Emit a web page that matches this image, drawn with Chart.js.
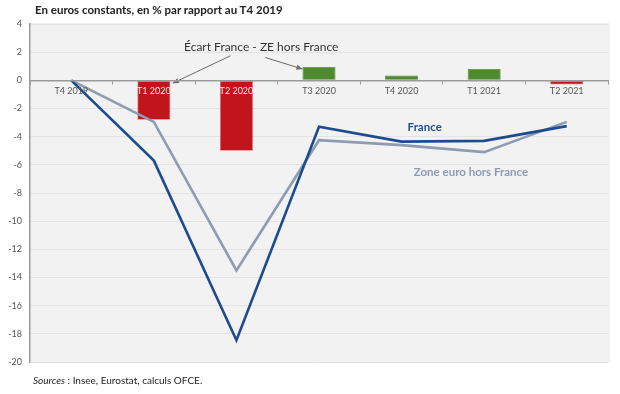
<!DOCTYPE html>
<html>
<head>
<meta charset="utf-8">
<script src="https://cdn.jsdelivr.net/npm/chart.js@4/dist/chart.umd.min.js"></script>
<style>
  html, body { margin: 0; padding: 0; background: #ffffff; }
  #wrap { position: relative; width: 620px; height: 394px; }
  #c { position: absolute; left: 0; top: 0; }
  #title { position: absolute; left: 35px; top: 3px; font: bold 11.5px Lato, "Open Sans", sans-serif; color: #222; white-space: nowrap; }
  #src { position: absolute; left: 33px; top: 374px; font: 10px Lato, "Open Sans", sans-serif; color: #222; white-space: nowrap; }
</style>
</head>
<body>
<div id="wrap">
  <canvas id="c" width="620" height="394"></canvas>
  <div id="title">En euros constants, en % par rapport au T4 2019</div>
  <div id="src"><i>Sources</i> : Insee, Eurostat, calculs OFCE.</div>
</div>
<script>
const categories = ["T4 2019", "T1 2020", "T2 2020", "T3 2020", "T4 2020", "T1 2021", "T2 2021"];
const france = [0, -5.7, -18.45, -3.3, -4.35, -4.3, -3.25];
const zoneEuroHorsFrance = [0, -2.95, -13.5, -4.25, -4.6, -5.1, -2.95];
const ecart = [null, -2.8, -5.0, 0.95, 0.35, 0.8, -0.3];
const yTicks = [4, 2, 0, -2, -4, -6, -8, -10, -12, -14, -16, -18, -20];

const RED = "#c1141b", GREEN = "#4f8a2f";
const FONT = "Lato, 'Open Sans', sans-serif";

const bgPlugin = {
  id: "bg",
  beforeDraw(chart) {
    const a = chart.chartArea, ctx = chart.ctx;
    ctx.save();
    ctx.fillStyle = "#f2f2f2";
    ctx.fillRect(a.left, a.top - 1, a.right - a.left + 2, a.bottom - a.top + 2);
    ctx.restore();
  }
};

function arrow(ctx, x1, y1, x2, y2) {
  ctx.beginPath();
  ctx.moveTo(x1, y1);
  ctx.lineTo(x2, y2);
  ctx.stroke();
  const ang = Math.atan2(y2 - y1, x2 - x1), L = 6, W = 2.6;
  ctx.beginPath();
  ctx.moveTo(x2, y2);
  ctx.lineTo(x2 - L * Math.cos(ang) + W * Math.sin(ang), y2 - L * Math.sin(ang) - W * Math.cos(ang));
  ctx.lineTo(x2 - L * Math.cos(ang) - W * Math.sin(ang), y2 - L * Math.sin(ang) + W * Math.cos(ang));
  ctx.closePath();
  ctx.fill();
}

const annotPlugin = {
  id: "annot",
  afterDatasetsDraw(chart) {
    const ctx = chart.ctx, xs = chart.scales.x, ys = chart.scales.y;
    const px = v => xs.getPixelForValue(v), py = v => ys.getPixelForValue(v);
    ctx.save();
    ctx.strokeStyle = "#6a6a6a"; ctx.fillStyle = "#6a6a6a"; ctx.lineWidth = 1;
    arrow(ctx, px(1.93), py(1.75), px(1.23), py(-0.2));
    arrow(ctx, px(2.35), py(1.62), px(2.8), py(0.8));
    ctx.textAlign = "center"; ctx.textBaseline = "middle";
    ctx.fillStyle = "#333";
    ctx.font = "12px " + FONT;
    ctx.fillText("Écart France - ZE hors France", px(2.3), py(2.35));
    ctx.font = "bold 11.5px " + FONT;
    ctx.fillStyle = "#1f4f93";
    ctx.fillText("France", px(4.28), py(-3.35));
    ctx.fillStyle = "#8c9bb3";
    ctx.fillText("Zone euro hors France", px(4.84), py(-6.5));
    ctx.restore();
  }
};

new Chart(document.getElementById("c"), {
  type: "bar",
  data: {
    labels: categories,
    datasets: [
      {
        type: "line", label: "France", data: france,
        borderColor: "#1c4b90", borderWidth: 2.6, pointRadius: 0, tension: 0, order: 0
      },
      {
        type: "line", label: "Zone euro hors France", data: zoneEuroHorsFrance,
        borderColor: "#8e9bb0", borderWidth: 2.6, pointRadius: 0, tension: 0, order: 1
      },
      {
        type: "bar", label: "Écart France - ZE hors France", data: ecart,
        backgroundColor: c => (c.raw < 0 ? RED : GREEN),
        borderColor: c => (c.raw < 0 ? "#e0676b" : GREEN),
        borderWidth: 0.8, borderSkipped: false,
        barPercentage: 0.8, categoryPercentage: 0.5, order: 2
      }
    ]
  },
  options: {
    responsive: false,
    animation: false,
    layout: { padding: { left: 0, top: 24, right: 12, bottom: 32 } },
    plugins: { legend: { display: false }, tooltip: { enabled: false } },
    scales: {
      x: {
        position: { y: 0 },
        offset: true,
        grid: { display: true, drawOnChartArea: false, drawTicks: true, tickLength: 3, color: "#9a9a9a", offset: true, z: 1 },
        border: { display: true, color: "#9a9a9a", width: 1.5, z: 1 },
        ticks: {
          z: 1,
          padding: 2,
          maxRotation: 0,
          font: { family: FONT, size: 9 },
          color: c => (ecart[c.index] !== null && ecart[c.index] < -1 ? "#fbe3e3" : "#555555")
        }
      },
      y: {
        min: -20, max: 4,
        afterFit(s) { s.width = 30; },
        afterBuildTicks(s) { s.ticks = yTicks.map(v => ({ value: v })); },
        grid: { color: "#e3e3e3", lineWidth: 1, drawTicks: false },
        border: { display: true, color: "#9a9a9a", width: 1.5 },
        ticks: { padding: 8, font: { family: FONT, size: 9 }, color: "#555555" }
      }
    }
  },
  plugins: [bgPlugin, annotPlugin]
});
</script>
</body>
</html>
